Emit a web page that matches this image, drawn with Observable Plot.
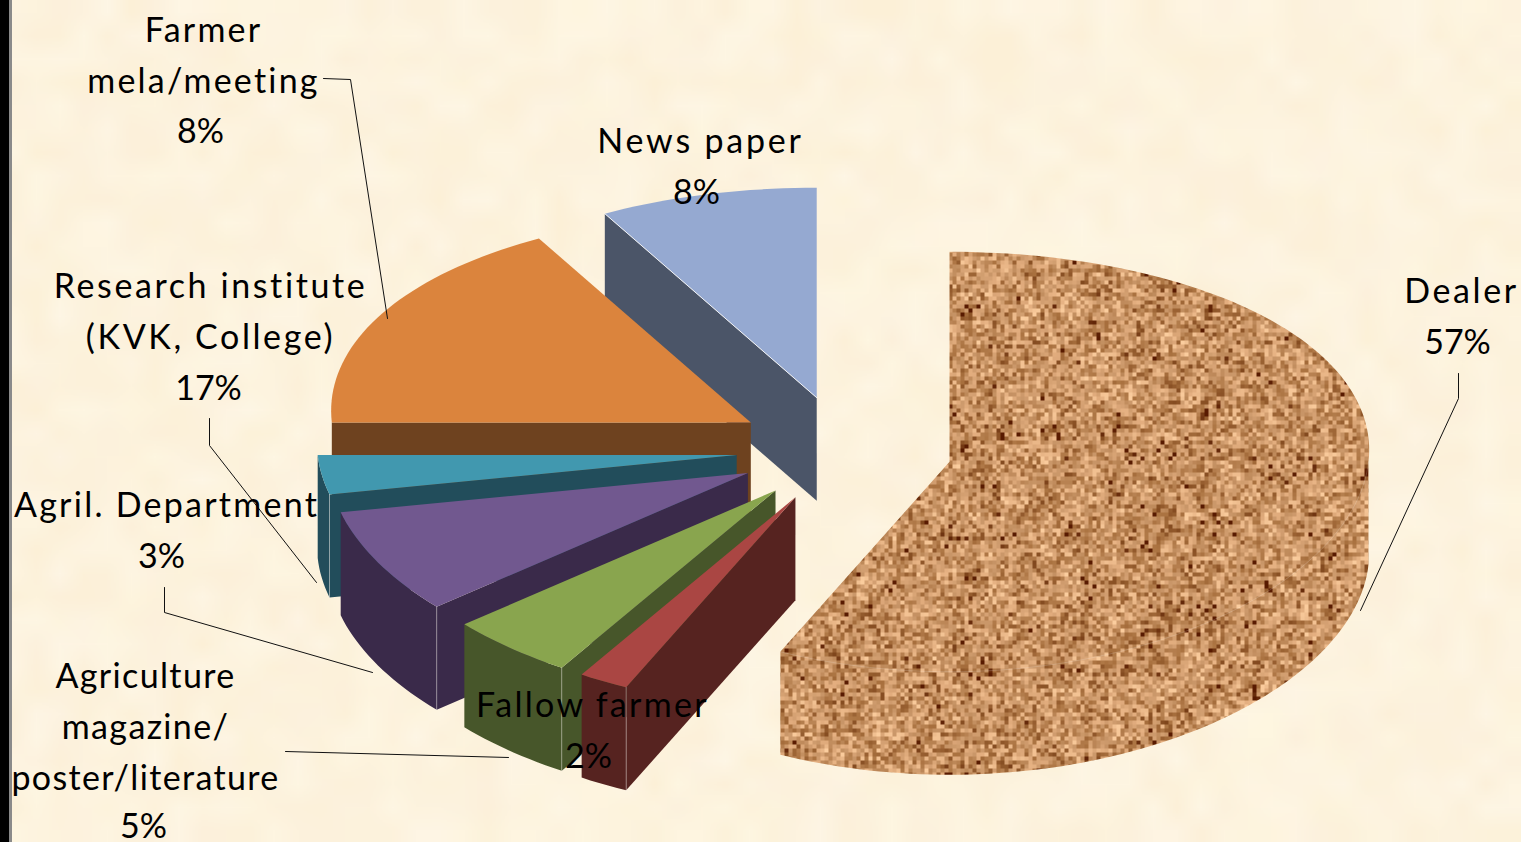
<!DOCTYPE html>
<html>
<head>
<meta charset="utf-8">
<title>Source of information</title>
<script src="https://cdn.jsdelivr.net/npm/d3@7"></script>
<script src="https://cdn.jsdelivr.net/npm/@observablehq/plot@0.6"></script>
<style>
  html, body { margin: 0; padding: 0; width: 1521px; height: 842px; overflow: hidden; background: #fdf3de; }
  #page { position: relative; width: 1521px; height: 842px; background-size: 1521px 842px; }
  #edge { position: absolute; left: 0; top: 0; width: 9px; height: 842px; background: #000; border-right: 3px solid #8a8a8a; }
  #chart { position: absolute; left: 0; top: 0; }
  #chart svg { display: block; }
</style>
</head>
<body>
<div id="page"><div id="chart"></div><div id="edge"></div></div>
<script>
// Slices in clockwise order from twelve o'clock.
const categories = ["Dealer", "Fallow farmer", "Agriculture\nmagazine/\nposter/literature", "Farmer\nmela/meeting", "Agril. Department", "Research institute\n(KVK, College)", "News paper"];
const shares = [57, 2, 5, 8, 3, 17, 8];
const topColors = ["url(#cork)", "#AA4643", "#89A54E", "#71588F", "#4198AF", "#DB843D", "#95A9D1"];
const sideColors = ["url(#cork)", "#562320", "#47562A", "#3A2A4A", "#224D5B", "#6E421F", "#4B5568"];

// Order in which the slices are painted, farthest first.
const paintOrder = [6, 5, 4, 3, 2, 1, 0];

// Label placement, same order as categories.
const nameX = [1461, 592, 145, 203, 166, 210, 700];
const nameY = [286, 700, 722, 50.5, 500, 306.5, 136];
const shareX = [1457, 588, 143, 200, 161, 208, 696];
const shareY = [337, 751, 821, 126, 551, 383, 187];
const tracking = [2.6, 2.3, 1.35, 2.2, 2.25, 2.6, 2.8];

// Leader lines, as [x, y] runs.
const leaders = [
  [[323, 78], [350, 79], [387, 318]],
  [[209, 418], [209, 445], [316, 582]],
  [[164, 587], [164, 612], [372, 672]],
  [[285, 751], [508, 757]],
  [[1458, 373], [1458, 398], [1360, 610]]
];

// Projection of the tilted pie.
const pie = {cx: 843, cy: 449.5, rx: 419, ry: 210, depth: 103, explode: 0.257, foreshorten: 0.00027, lean: 0.08};
const rad = (deg) => (deg * Math.PI) / 180;

const total = d3.sum(shares);
let running = 0;
const slices = shares.map((v, i) => {
  const start = (running / total) * 360;
  running += v;
  const end = (running / total) * 360;
  const mid = rad((start + end) / 2);
  const dy = -pie.explode * pie.ry * Math.cos(mid);
  return {
    i, start, end,
    apex: {x: pie.cx + pie.explode * pie.rx * Math.sin(mid) + pie.lean * Math.max(0, dy), y: pie.cy + dy}
  };
});

// A point on a slice's rim; the ellipse narrows slightly towards the front.
function rim(s, deg, drop = 0) {
  const dy = -pie.ry * Math.cos(rad(deg));
  const squeeze = 1 - pie.foreshorten * dy;
  return {x: s.apex.x + pie.rx * Math.sin(rad(deg)) * squeeze, y: s.apex.y + dy + drop};
}
function arc(s, from, to, drop = 0) {
  const n = Math.max(2, Math.ceil(Math.abs(to - from) / 1.5));
  return d3.range(n + 1).map((k) => rim(s, from + ((to - from) * k) / n, drop));
}
const lowered = (p) => ({x: p.x, y: p.y + pie.depth});

const faces = [];
const edges = [];
for (const idx of paintOrder) {
  const s = slices[idx];
  if (idx === 0) {
    // The largest slice shares one texture over its top and rim.
    faces.push({fill: sideColors[idx], pts: [s.apex, ...arc(s, s.start, 90), ...arc(s, 90, s.end, pie.depth), rim(s, s.end)]});
    edges.push({pts: arc(s, 90, s.end), stroke: "#ffffff", opacity: 0.16});
    continue;
  }
  const a = rim(s, s.start);
  faces.push({fill: sideColors[idx], pts: [s.apex, a, lowered(a), lowered(s.apex)]});
  const from = Math.max(s.start, 90), to = Math.min(s.end, 270);
  if (to > from) {
    faces.push({fill: sideColors[idx], pts: [...arc(s, from, to), ...arc(s, to, from, pie.depth)]});
  }
  faces.push({fill: topColors[idx], pts: [s.apex, ...arc(s, s.start, s.end)]});
  if (s.start >= 90 && s.start < 270) edges.push({pts: [a, lowered(a)], stroke: "#ffffff", opacity: 0.35});
  if (idx === 6) edges.push({pts: [s.apex, a], stroke: "#ffffff", opacity: 0.85});
}

// Sets one label's letter spacing on the group its text mark draws.
const spaced = (value) => (index, scales, values, dimensions, context, next) => {
  const g = next(index, scales, values, dimensions, context);
  g.style.letterSpacing = `${value}px`;
  return g;
};

const textStyle = {fontSize: 34, lineHeight: 1.5, lineAnchor: "middle", textAnchor: "middle", fill: "#000"};

const chart = Plot.plot({
  width: 1521,
  height: 842,
  margin: 0,
  x: {domain: [0, 1521], range: [0, 1521], axis: null},
  y: {domain: [0, 842], range: [0, 842], axis: null},
  style: {background: "transparent", fontFamily: "Lato, sans-serif", overflow: "visible"},
  marks: [
    ...faces.map((f) => Plot.line(f.pts, {x: "x", y: "y", fill: f.fill, stroke: "none"})),
    ...edges.map((e) => Plot.line(e.pts, {x: "x", y: "y", stroke: e.stroke, strokeOpacity: e.opacity, strokeWidth: 1})),
    ...leaders.map((run) => Plot.line(run, {x: (d) => d[0], y: (d) => d[1], stroke: "#111", strokeWidth: 1})),
    ...categories.map((name, i) => Plot.text([name], {x: nameX[i], y: nameY[i], text: (d) => d, ...textStyle, render: spaced(tracking[i])})),
    Plot.text(shares, {x: shareX, y: shareY, text: (d) => `${d}%`, ...textStyle})
  ]
});

// Repeatable grain values for the cork and parchment fills.
function hash(x, y) {
  let h = Math.imul(x + 1, 73856093) ^ Math.imul(y + 1, 19349663);
  h = Math.imul(h ^ (h >>> 16), 0x85ebca6b);
  h = Math.imul(h ^ (h >>> 13), 0xc2b2ae35);
  return ((h ^ (h >>> 16)) >>> 0) / 4294967296;
}
function corkTile(size) {
  const c = document.createElement("canvas");
  c.width = c.height = size;
  const g = c.getContext("2d");
  const ramp = d3.scaleLinear()
    .domain([0, 0.03, 0.2, 0.5, 0.8, 1])
    .range(["#581a00", "#834a1f", "#aa7240", "#c99668", "#e3ae7f", "#fbcd9e"]);
  for (let y = 0; y < size; y++) for (let x = 0; x < size; x++) {
    const coarse = hash(Math.floor(x / 5), Math.floor(y / 5) + 991);
    const t = Math.min(1, Math.max(0, hash(x, y) * 0.9 + (coarse - 0.5) * 0.18 + 0.04));
    g.fillStyle = ramp(t);
    g.fillRect(x, y, 1, 1);
  }
  return c.toDataURL();
}
const ns = "http://www.w3.org/2000/svg";
const defs = document.createElementNS(ns, "defs");
const pattern = document.createElementNS(ns, "pattern");
pattern.setAttribute("id", "cork");
pattern.setAttribute("patternUnits", "userSpaceOnUse");
pattern.setAttribute("width", 640);
pattern.setAttribute("height", 640);
const image = document.createElementNS(ns, "image");
image.setAttribute("href", corkTile(160));
image.setAttribute("width", 640);
image.setAttribute("height", 640);
image.setAttribute("style", "image-rendering: pixelated");
pattern.appendChild(image);
defs.appendChild(pattern);
chart.insertBefore(defs, chart.firstChild);
document.getElementById("chart").appendChild(chart);

// Soft parchment mottling behind the chart.
(function parchment() {
  const c = document.createElement("canvas");
  c.width = 64; c.height = 36;
  const g = c.getContext("2d");
  for (let y = 0; y < c.height; y++) for (let x = 0; x < c.width; x++) {
    const n = hash(x + 17, y + 401) - 0.5;
    const w = hash(x + 211, y + 73) - 0.5;
    g.fillStyle = `rgb(${Math.round(253 + n * 3)},${Math.round(243 + n * 6)},${Math.round(222 + n * 10 + w * 5)})`;
    g.fillRect(x, y, 1, 1);
  }
  document.getElementById("page").style.backgroundImage = `url(${c.toDataURL()})`;
})();
</script>
</body>
</html>
